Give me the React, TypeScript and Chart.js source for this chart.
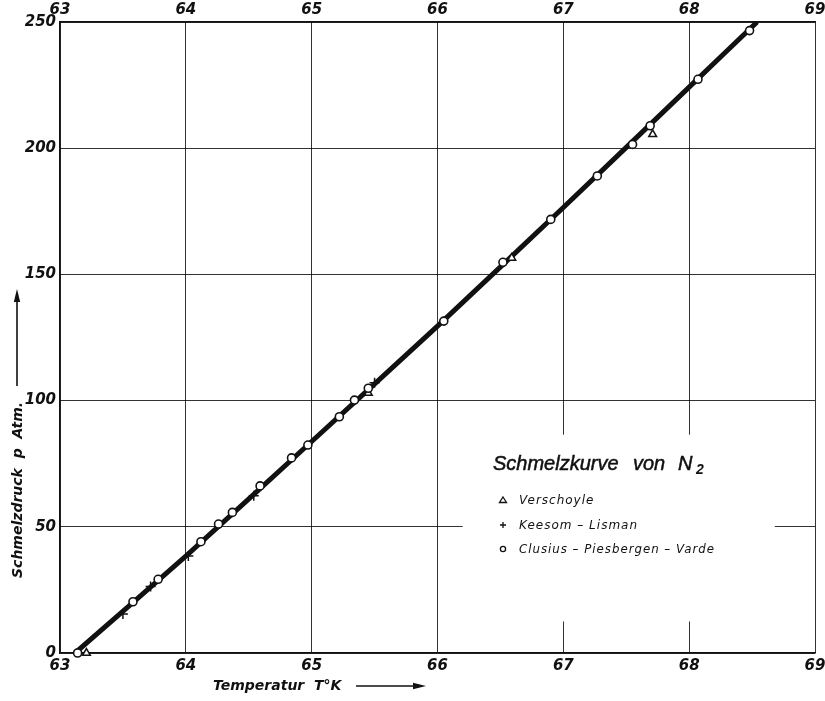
import React, { useEffect, useRef } from "react";
import { Chart, registerables } from "chart.js";

Chart.register(...registerables);

// Tick values
const tempTicks = [63, 64, 65, 66, 67, 68, 69];
const pressTicks = [0, 50, 100, 150, 200, 250];

// Verschoyle (triangles)
const verTemp = [63.21, 65.45, 66.59, 67.71];
const verPress = [0, 103.0, 156.5, 205.5];

// Keesom - Lisman (plus)
const keesTemp = [63.5, 63.72, 64.02, 64.54, 65.5];
const keesPress = [15.5, 26.3, 38.4, 62.3, 107.1];

// Clusius - Piesbergen - Varde (circles)
const clusTemp = [63.14, 63.58, 63.78, 64.12, 64.26, 64.37, 64.59, 64.84, 64.97, 65.22, 65.34, 65.45, 66.05, 66.52, 66.9, 67.27, 67.55, 67.69, 68.07, 68.48];
const clusPress = [0, 20.3, 29.2, 44.1, 51.1, 55.7, 66.2, 77.3, 82.4, 93.6, 100.2, 104.9, 131.5, 154.8, 171.8, 189.0, 201.5, 208.9, 227.3, 246.6];

// Melting curve (drawn line)
const curveTemp = [63.12, 64.0, 65.0, 66.0, 67.0, 68.0, 68.54];
const curvePress = [0, 38.4, 83.8, 129.5, 176.5, 224.2, 250];

const legendTitle = "Schmelzkurve";
const legendTitle2 = "von";
const legendLabels = ["Verschoyle", "Keesom – Lisman", "Clusius – Piesbergen – Varde"];
const xTitle = "Temperatur  T°K";
const yTitle = "Schmelzdruck  p  Atm.";

const toPts = (xs: number[], ys: number[]) => xs.map((x, i) => ({ x, y: ys[i] }));

const INK = "#111";

function drawArrow(ctx: CanvasRenderingContext2D, x1: number, y1: number, x2: number, y2: number) {
  const ang = Math.atan2(y2 - y1, x2 - x1);
  const len = 13;
  const hw = 3.2;
  ctx.beginPath();
  ctx.moveTo(x1, y1);
  ctx.lineTo(x2 - Math.cos(ang) * len * 0.6, y2 - Math.sin(ang) * len * 0.6);
  ctx.lineWidth = 1.6;
  ctx.strokeStyle = INK;
  ctx.stroke();
  ctx.beginPath();
  ctx.moveTo(x2, y2);
  ctx.lineTo(x2 - Math.cos(ang) * len - Math.sin(ang) * hw, y2 - Math.sin(ang) * len + Math.cos(ang) * hw);
  ctx.lineTo(x2 - Math.cos(ang) * len + Math.sin(ang) * hw, y2 - Math.sin(ang) * len - Math.cos(ang) * hw);
  ctx.closePath();
  ctx.fillStyle = INK;
  ctx.fill();
}

const decorPlugin = {
  id: "decor",
  beforeDatasetsDraw(chart: any) {
    const { ctx, scales } = chart;
    const x = scales.x;
    const y = scales.y;
    const l = x.getPixelForValue(66.2);
    const r = x.getPixelForValue(68.68);
    const t = y.getPixelForValue(86.5);
    const b = y.getPixelForValue(12.5);
    ctx.save();
    ctx.fillStyle = "#fff";
    ctx.fillRect(l, t, r - l, b - t);
    ctx.restore();
  },
  afterDraw(chart: any) {
    const { ctx } = chart;
    ctx.save();
    ctx.fillStyle = INK;
    // x title
    ctx.font = "italic bold 14px 'DejaVu Sans'";
    ctx.textAlign = "left";
    ctx.textBaseline = "middle";
    ctx.fillText(xTitle, 213, 686);
    drawArrow(ctx, 356, 686, 426, 686);
    // y title
    ctx.save();
    ctx.translate(18, 578);
    ctx.rotate(-Math.PI / 2);
    ctx.fillText(yTitle, 0, 0, 185);
    ctx.restore();
    drawArrow(ctx, 17, 386, 17, 289);

    // legend title
    ctx.font = "italic 20px 'Liberation Sans'";
    ctx.textBaseline = "alphabetic";
    ctx.lineWidth = 0.5;
    ctx.strokeStyle = INK;
    const heavy = (t: string, x: number, y: number) => {
      ctx.fillText(t, x, y); ctx.strokeText(t, x, y);
    };
    heavy(legendTitle, 493, 470);
    heavy(legendTitle2, 633, 470);
    heavy("N", 678, 470);
    ctx.font = "italic bold 14px 'Liberation Sans'";
    ctx.fillText("2", 696, 474);

    // legend items
    ctx.font = "italic 12px 'DejaVu Sans'";
    try { (ctx as any).letterSpacing = "1px"; } catch (e) {}
    const rows = [500, 525, 549];
    const widths = [80, 120, 196];
    legendLabels.forEach((lab, i) => {
      ctx.fillText(lab, 519, rows[i] + 4, widths[i]);
    });
    try { (ctx as any).letterSpacing = "0px"; } catch (e) {}
    ctx.strokeStyle = INK;
    ctx.lineWidth = 1.3;
    // triangle
    ctx.beginPath();
    ctx.moveTo(503, rows[0] - 3);
    ctx.lineTo(506.5, rows[0] + 2.5);
    ctx.lineTo(499.5, rows[0] + 2.5);
    ctx.closePath();
    ctx.stroke();
    // plus
    ctx.beginPath();
    ctx.moveTo(500, rows[1]);
    ctx.lineTo(506, rows[1]);
    ctx.moveTo(503, rows[1] - 3);
    ctx.lineTo(503, rows[1] + 3);
    ctx.stroke();
    // circle
    ctx.beginPath();
    ctx.arc(503, rows[2], 2.6, 0, Math.PI * 2);
    ctx.stroke();
    ctx.restore();
  },
};

export default function App() {
  const ref = useRef<HTMLCanvasElement | null>(null);

  useEffect(() => {
    if (!ref.current) return;
    const tickFont = { family: "'DejaVu Sans'", size: 15, style: "italic" as const, weight: "bold" as const };
    const chart = new Chart(ref.current, {
      type: "scatter",
      data: {
        datasets: [
          {
            label: legendLabels[2],
            data: toPts(clusTemp, clusPress),
            pointStyle: "circle",
            pointRadius: 4,
            pointBackgroundColor: "#fff",
            pointBorderColor: INK,
            pointBorderWidth: 1.6,
            clip: false as any,
          },
          {
            label: legendLabels[0],
            data: toPts(verTemp, verPress),
            pointStyle: "triangle",
            pointRadius: 4.5,
            pointBackgroundColor: "#fff",
            pointBorderColor: INK,
            pointBorderWidth: 1.5,
            clip: false as any,
          },
          {
            label: legendLabels[1],
            data: toPts(keesTemp, keesPress),
            pointStyle: "cross",
            pointRadius: 5,
            pointBorderColor: INK,
            pointBorderWidth: 1.5,
            clip: false as any,
          },
          {
            label: "curve",
            data: toPts(curveTemp, curvePress),
            showLine: true,
            borderColor: INK,
            borderWidth: 5,
            pointRadius: 0,
            tension: 0.2,
            borderCapStyle: "butt",
          } as any,
        ],
      },
      options: {
        responsive: false,
        animation: false,
        layout: { padding: { left: 0, right: 10, top: 0, bottom: 0 } },
        plugins: { legend: { display: false }, tooltip: { enabled: false }, title: { display: false } },
        scales: {
          x: {
            type: "linear",
            position: "bottom",
            min: 63,
            max: 69,
            afterBuildTicks: (s: any) => { s.ticks = tempTicks.map((v) => ({ value: v })); },
            afterFit: (s: any) => { s.height = 48; s.paddingLeft = 0; s.paddingRight = 0; },
            grid: { color: "rgba(0,0,0,0.8)", lineWidth: 1, drawTicks: false },
            border: { color: INK, width: 1.5 },
            ticks: { font: tickFont, color: INK, padding: 4, autoSkip: false, maxRotation: 0, callback: (v: any) => String(v) },
          },
          x2: {
            type: "linear",
            position: "top",
            min: 63,
            max: 69,
            afterBuildTicks: (s: any) => { s.ticks = tempTicks.map((v) => ({ value: v })); },
            afterFit: (s: any) => { s.height = 22; s.paddingLeft = 0; s.paddingRight = 0; },
            grid: { drawOnChartArea: false, drawTicks: false },
            border: { color: INK, width: 1.5 },
            ticks: { font: tickFont, color: INK, padding: 3, autoSkip: false, maxRotation: 0, callback: (v: any) => String(v) },
          },
          y: {
            type: "linear",
            min: 0,
            max: 250,
            afterBuildTicks: (s: any) => { s.ticks = pressTicks.map((v) => ({ value: v })); },
            afterFit: (s: any) => { s.width = 60; s.paddingTop = 0; s.paddingBottom = 0; },
            grid: { color: "rgba(0,0,0,0.8)", lineWidth: 1, drawTicks: false },
            border: { color: INK, width: 1.5 },
            ticks: { font: tickFont, color: INK, padding: 4, autoSkip: false, callback: (v: any) => String(v) },
          },
        },
      },
      plugins: [decorPlugin],
    });
    return () => chart.destroy();
  }, []);

  return (
    <div style={{ position: "absolute", left: 0, top: 0, width: 825, height: 701, background: "#fff" }}>
      <canvas ref={ref} width={825} height={701} style={{ display: "block", width: 825, height: 701 }} />
    </div>
  );
}
